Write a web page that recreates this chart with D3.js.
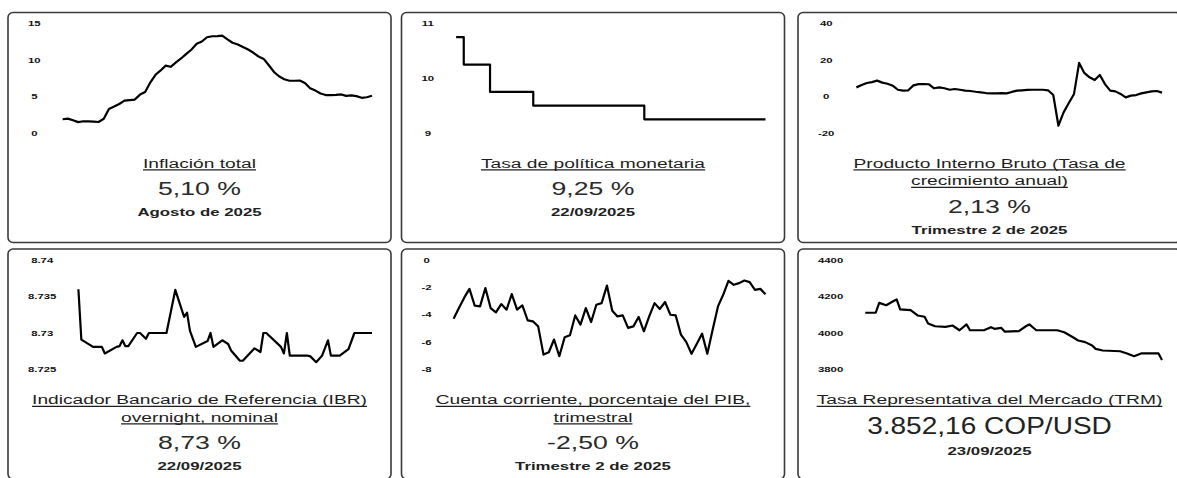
<!DOCTYPE html>
<html lang="es">
<head>
<meta charset="utf-8">
<title>Indicadores económicos</title>
<script src="https://cdn.jsdelivr.net/npm/d3@7"></script>
<style>
  html, body { margin: 0; padding: 0; background: #fff; }
  #chart { width: 1177px; height: 478px; overflow: hidden; }
  text { font-family: "Liberation Sans", Arial, sans-serif; }
</style>
</head>
<body>
<div id="chart"></div>
<script>
// ---------- Datos ----------

// Inflación total, mensual desde agosto 2020
const inflacionInicio = '2020-08-01';
const inflacionValores = [
  1.88, 1.97, 1.75, 1.49, 1.61,
  1.60, 1.56, 1.51, 1.95, 3.30, 3.63, 3.97, 4.44, 4.51, 4.58, 5.26, 5.62,
  6.94, 8.01, 8.53, 9.23, 9.07, 9.67, 10.21, 10.84, 11.44, 12.22, 12.53, 13.12,
  13.25, 13.28, 13.34, 12.82, 12.36, 12.13, 11.78, 11.43, 10.99, 10.48, 10.15, 9.28,
  8.35, 7.74, 7.36, 7.16, 7.16, 7.18, 6.86, 6.12, 5.81, 5.41, 5.20, 5.20,
  5.22, 5.28, 5.09, 5.16, 5.05, 4.82, 4.90, 5.10
];
const inflacionTicks = [0, 5, 10, 15];

// Tasa de política monetaria (cambios)
const tpmFechas = ['2024-09-22', '2024-10-01', '2024-11-01', '2024-12-22', '2025-05-02', '2025-09-22'];
const tpmValores = [10.75, 10.25, 9.75, 9.50, 9.25, 9.25];
const tpmTicks = [9, 10, 11];

// PIB, tasa de crecimiento anual, trimestral desde T3 2010
const pibInicio = '2010-07-01';
const pibValores = [
  5.0, 6.3, 7.4, 7.9, 8.7, 7.6, 7.0, 5.9, 3.7, 3.2,
  3.4, 6.1, 6.8, 6.8, 6.7, 4.5, 5.0, 4.5, 3.7, 4.1,
  3.7, 3.2, 3.0, 2.6, 2.3, 1.9, 1.7, 1.7, 1.9, 1.7,
  2.5, 3.2, 3.4, 3.6, 3.7, 3.7, 3.7, 3.4, 0.8, -16.0,
  -8.7, -3.6, 1.4, 18.4, 12.9, 10.5, 9.0, 11.8, 6.8, 3.2,
  2.8, 1.4, -0.5, 0.5, 0.8, 1.7, 2.3, 2.8, 3.0, 2.13
];
const pibTicks = [-20, 0, 20, 40];

// IBR overnight nominal
const ibrFechas = [
  '2025-06-14', '2025-06-15', '2025-06-19', '2025-06-22', '2025-06-23', '2025-06-27', '2025-06-28',
  '2025-06-29', '2025-06-30', '2025-07-01', '2025-07-04', '2025-07-05', '2025-07-07', '2025-07-08',
  '2025-07-14', '2025-07-17', '2025-07-20', '2025-07-21', '2025-07-22', '2025-07-24', '2025-07-28',
  '2025-07-29', '2025-07-30', '2025-08-02', '2025-08-04', '2025-08-05', '2025-08-08', '2025-08-09',
  '2025-08-13', '2025-08-15', '2025-08-16', '2025-08-17', '2025-08-22', '2025-08-23', '2025-08-24',
  '2025-08-25', '2025-08-31', '2025-09-01', '2025-09-03', '2025-09-05', '2025-09-07', '2025-09-08',
  '2025-09-11', '2025-09-14', '2025-09-16', '2025-09-22'
];
const ibrValores = [
  8.7360, 8.7291, 8.7281, 8.7281, 8.7272, 8.7281, 8.7282,
  8.7290, 8.7282, 8.7282, 8.7300, 8.7300, 8.7292, 8.7300,
  8.7300, 8.7359, 8.7322, 8.7328, 8.7303, 8.7281, 8.7289,
  8.7300, 8.7281, 8.7290, 8.7285, 8.7276, 8.7262, 8.7262,
  8.7279, 8.7274, 8.7300, 8.7300, 8.7281, 8.7272, 8.7300,
  8.7269, 8.7269, 8.7268, 8.7260, 8.7269, 8.7290, 8.7269,
  8.7269, 8.7278, 8.7300, 8.7300
];
const ibrTicks = [8.725, 8.73, 8.735, 8.74];

// Cuenta corriente, % del PIB, trimestral desde T3 2010
const ccInicio = '2010-07-01';
const ccValores = [
  -4.29, -3.51, -2.75, -2.11, -3.34, -3.39, -2.05, -3.51, -3.83, -3.22,
  -3.63, -2.49, -3.63, -3.32, -4.41, -4.48, -4.85, -6.91, -6.74, -5.81,
  -7.03, -5.65, -5.50, -4.05, -4.72, -3.51, -4.53, -3.27, -3.15, -1.87,
  -3.71, -4.12, -4.05, -4.96, -4.85, -4.16, -5.21, -4.12, -3.15, -3.58,
  -3.07, -4.00, -4.05, -5.45, -5.98, -6.85, -6.12, -5.38, -6.85, -5.09,
  -3.39, -2.54, -1.52, -1.81, -1.69, -1.50, -1.62, -2.18, -2.11, -2.50
];
const ccTicks = [-8, -6, -4, -2, 0];

// TRM, COP por USD
const trmFechas = [
  '2025-06-30', '2025-07-03', '2025-07-04', '2025-07-06', '2025-07-08', '2025-07-09', '2025-07-10',
  '2025-07-13', '2025-07-15', '2025-07-17', '2025-07-18', '2025-07-20', '2025-07-23', '2025-07-25',
  '2025-07-27', '2025-07-29', '2025-07-30', '2025-08-03', '2025-08-05', '2025-08-06', '2025-08-08',
  '2025-08-09', '2025-08-13', '2025-08-15', '2025-08-16', '2025-08-18', '2025-08-24', '2025-08-26',
  '2025-08-28', '2025-08-30', '2025-09-01', '2025-09-03', '2025-09-04', '2025-09-06', '2025-09-11',
  '2025-09-13', '2025-09-15', '2025-09-17', '2025-09-22', '2025-09-23'
];
const trmValores = [
  4111, 4111, 4165, 4152, 4174, 4184, 4129,
  4125, 4096, 4089, 4052, 4037, 4034, 4041,
  4015, 4047, 4015, 4015, 4032, 4023, 4028,
  4007, 4010, 4037, 4047, 4015, 4015, 4004,
  3982, 3959, 3950, 3932, 3913, 3904, 3900,
  3888, 3873, 3888, 3888, 3852.16
];
const trmTicks = [3800, 4000, 4200, 4400];

// Textos de cada tarjeta
const titulos = [
  ['Inflación total'],
  ['Tasa de política monetaria'],
  ['Producto Interno Bruto (Tasa de', 'crecimiento anual)'],
  ['Indicador Bancario de Referencia (IBR)', 'overnight, nominal'],
  ['Cuenta corriente, porcentaje del PIB,', 'trimestral'],
  ['Tasa Representativa del Mercado (TRM)']
];
const valores = ['5,10 %', '9,25 %', '2,13 %', '8,73 %', '-2,50 %', '3.852,16 COP/USD'];
const fechas = ['Agosto de 2025', '22/09/2025', 'Trimestre 2 de 2025', '22/09/2025', 'Trimestre 2 de 2025', '23/09/2025'];

// ---------- Armado ----------
const parseDay = d3.timeParse('%Y-%m-%d');
const monthly = (start, vals, step) => vals.map((v, i) => ({ x: d3.timeMonth.offset(parseDay(start), i * step), y: v }));
const paired = (dates, vals) => dates.map((d, i) => ({ x: parseDay(d), y: vals[i] }));

const panels = [
  { data: monthly(inflacionInicio, inflacionValores, 1), ticks: inflacionTicks },
  { data: paired(tpmFechas, tpmValores), ticks: tpmTicks, curve: d3.curveStepAfter },
  { data: monthly(pibInicio, pibValores, 3), ticks: pibTicks },
  { data: paired(ibrFechas, ibrValores), ticks: ibrTicks, fmt: d => String(+d.toFixed(3)) },
  { data: monthly(ccInicio, ccValores, 3), ticks: ccTicks },
  { data: paired(trmFechas, trmValores), ticks: trmTicks, bigValue: true }
].map((p, i) => Object.assign(p, { title: titulos[i], value: valores[i], date: fechas[i] }));

// ---------- Dibujo ----------
const W = 1177, H = 478;
const COLS = [8, 401.5, 798], ROWS = [12.5, 249];
const PW = 383, PH = 230;
const PLOT_TOP = 11, PLOT_BOTTOM = 120.5, PLOT_RIGHT = 364;
const STRETCH = 1.62;

const svg = d3.select('#chart').append('svg')
  .attr('width', W)
  .attr('height', H);

// Texto estirado horizontalmente (la tarjeta original es más ancha)
function stretchedText(parent, x, y, str, o) {
  const g = parent.append('g').attr('transform', `translate(${x},${y}) scale(${o.sx},1)`);
  const t = g.append('text')
    .attr('text-anchor', 'middle')
    .attr('font-size', o.size)
    .attr('font-weight', o.weight || 400)
    .attr('fill', o.color || '#222')
    .text(str);
  if (o.underline) {
    const bb = t.node().getBBox();
    g.append('line')
      .attr('x1', bb.x).attr('x2', bb.x + bb.width)
      .attr('y1', 2.4).attr('y2', 2.4)
      .attr('stroke', o.color || '#222')
      .attr('stroke-width', 1.1)
      .attr('vector-effect', 'non-scaling-stroke');
  }
  return g;
}

panels.forEach((p, i) => {
  const px = COLS[i % 3], py = ROWS[Math.floor(i / 3)];
  const g = svg.append('g').attr('transform', `translate(${px},${py})`);

  g.append('rect')
    .attr('x', 0).attr('y', 0)
    .attr('width', PW).attr('height', PH)
    .attr('rx', 5)
    .attr('fill', '#fff')
    .attr('stroke', '#3a3a3a')
    .attr('stroke-width', 1.6);

  const fmt = p.fmt || (d => String(d));

  // medir el ancho de las etiquetas para ubicar el área del gráfico
  const probe = g.append('text').attr('font-size', 7).attr('font-weight', 700);
  const labelW = d3.max(p.ticks, t => probe.text(fmt(t)).node().getComputedTextLength()) * STRETCH;
  probe.remove();
  const left = 20 + labelW + 22;

  const x = d3.scaleTime()
    .domain(d3.extent(p.data, d => d.x))
    .range([left, PLOT_RIGHT]);
  const y = d3.scaleLinear()
    .domain(d3.extent(p.ticks))
    .range([PLOT_BOTTOM, PLOT_TOP]);

  const axis = g.append('g')
    .attr('transform', `translate(${20 + labelW / 2},0)`)
    .call(d3.axisLeft(y).tickValues(p.ticks).tickFormat(fmt).tickSize(0).tickPadding(0));
  axis.select('.domain').remove();
  axis.selectAll('text')
    .attr('x', 0)
    .attr('text-anchor', 'middle')
    .attr('font-size', 7)
    .attr('font-weight', 700)
    .attr('fill', '#111')
    .attr('transform', `scale(${STRETCH},1)`);

  const line = d3.line()
    .x(d => x(d.x))
    .y(d => y(d.y))
    .curve(p.curve || d3.curveLinear);

  g.append('path')
    .datum(p.data)
    .attr('d', line)
    .attr('fill', 'none')
    .attr('stroke', '#000')
    .attr('stroke-width', 2.2)
    .attr('stroke-linejoin', 'round');

  // textos
  const cx = PW / 2;
  let ty = 155;
  p.title.forEach((ln, k) => {
    stretchedText(g, cx, ty + k * 17.5, ln, { size: 12, sx: 1.6, color: '#1e1e1e', underline: true });
  });
  ty += (p.title.length - 1) * 17.5;

  const vy = ty + (p.bigValue ? 30 : 27.5);
  stretchedText(g, cx, vy, p.value, p.bigValue
    ? { size: 23, sx: 1.22, color: '#222' }
    : { size: 18.5, sx: 1.44, color: '#2a2a2a' });

  stretchedText(g, cx, vy + 21, p.date, { size: 10.5, sx: 1.6, weight: 700, color: '#222' });
});
</script>
</body>
</html>
